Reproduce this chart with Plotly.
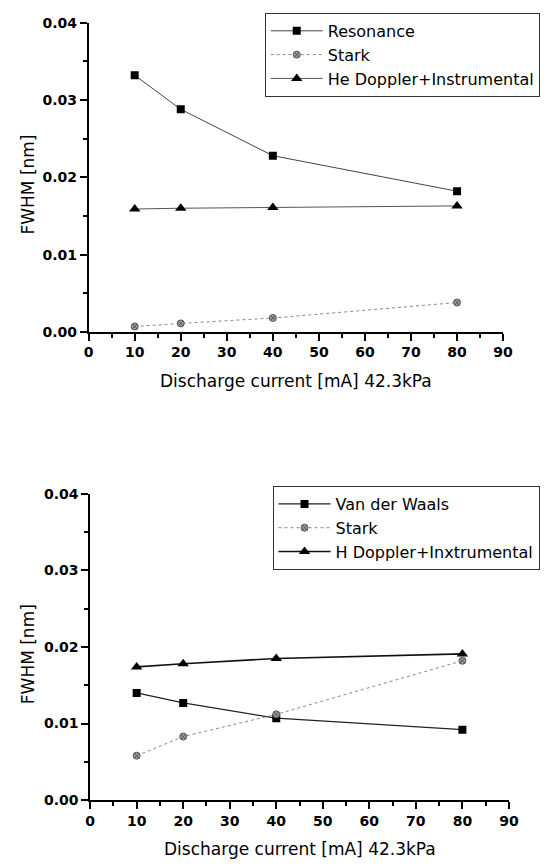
import plotly.graph_objects as go

# Discharge current [mA]
current = [10, 20, 40, 80]

# Upper panel: He line broadening components (FWHM, nm)
resonance = [0.0332, 0.0288, 0.0228, 0.0182]
stark_he = [0.0007, 0.0011, 0.0018, 0.0038]
he_doppler = [0.0159, 0.0160, 0.0161, 0.0163]

# Lower panel: H line broadening components (FWHM, nm)
van_der_waals = [0.0140, 0.0127, 0.0107, 0.0092]
stark_h = [0.0058, 0.0083, 0.0112, 0.0182]
h_doppler = [0.0174, 0.0178, 0.0185, 0.0191]

x_ticks = [0, 10, 20, 30, 40, 50, 60, 70, 80, 90]
y_ticks = [0.00, 0.01, 0.02, 0.03, 0.04]

W, H = 552, 867
FONT = "DejaVu Sans"


def px_x(p):
    return p / W


def px_y(p):
    return 1 - p / H


fig = go.Figure()

# ---- upper panel ----
fig.add_trace(go.Scatter(
    x=current, y=resonance, name="Resonance", mode="lines+markers",
    line=dict(color="#444", width=1),
    marker=dict(symbol="square", size=8, color="black"),
    xaxis="x", yaxis="y", legend="legend"))
fig.add_trace(go.Scatter(
    x=current, y=stark_he, name="Stark", mode="lines+markers",
    line=dict(color="#888", width=1, dash="dot"),
    marker=dict(symbol="circle-x", size=7, color="#999",
                line=dict(color="#555", width=1)),
    xaxis="x", yaxis="y", legend="legend"))
fig.add_trace(go.Scatter(
    x=current, y=he_doppler, name="He Doppler+Instrumental", mode="lines+markers",
    line=dict(color="#555", width=1),
    marker=dict(symbol="triangle-up", size=10, color="black"),
    xaxis="x", yaxis="y", legend="legend"))

# ---- lower panel ----
fig.add_trace(go.Scatter(
    x=current, y=van_der_waals, name="Van der Waals", mode="lines+markers",
    line=dict(color="#222", width=1.2),
    marker=dict(symbol="square", size=8, color="black"),
    xaxis="x2", yaxis="y2", legend="legend2"))
fig.add_trace(go.Scatter(
    x=current, y=stark_h, name="Stark", mode="lines+markers",
    line=dict(color="#888", width=1, dash="dot"),
    marker=dict(symbol="circle-x", size=7, color="#999",
                line=dict(color="#555", width=1)),
    xaxis="x2", yaxis="y2", legend="legend2"))
fig.add_trace(go.Scatter(
    x=current, y=h_doppler, name="H Doppler+Inxtrumental", mode="lines+markers",
    line=dict(color="#111", width=1.6),
    marker=dict(symbol="triangle-up", size=10, color="black"),
    xaxis="x2", yaxis="y2", legend="legend2"))

tick_font = dict(family=FONT, size=14, color="black", weight="bold")


def xaxis(domain, anchor):
    return dict(
        domain=domain, anchor=anchor, range=[0, 90],
        tickvals=x_ticks, ticktext=[str(v) for v in x_ticks],
        ticks="outside", ticklen=7, tickwidth=1.5, tickcolor="black",
        minor=dict(dtick=5, tick0=0, ticks="outside", ticklen=4,
                   tickwidth=1.5, tickcolor="black"),
        showline=True, linecolor="black", linewidth=1.5,
        showgrid=False, zeroline=False, tickfont=tick_font,
        fixedrange=True)


def yaxis(domain, anchor):
    return dict(
        domain=domain, anchor=anchor, range=[0, 0.04],
        tickvals=y_ticks, ticktext=[f"{v:.2f}" for v in y_ticks],
        ticks="outside", ticklen=7, tickwidth=1.5, tickcolor="black",
        minor=dict(dtick=0.005, tick0=0, ticks="outside", ticklen=4,
                   tickwidth=1.5, tickcolor="black"),
        showline=True, linecolor="black", linewidth=1.5,
        showgrid=False, zeroline=False, tickfont=tick_font,
        fixedrange=True)


legend_style = dict(
    font=dict(family=FONT, size=16, color="black"),
    bordercolor="#333", borderwidth=1, bgcolor="white",
    xanchor="left", yanchor="top", itemwidth=52,
    tracegroupgap=0, itemclick=False)

# plot-area edges in pixels
top_x = (86, 512)
top_y = (15, 330)
bot_x = (87.5, 518)
bot_y = (495, 807)

fig.update_layout(
    width=W, height=H,
    margin=dict(l=0, r=0, t=0, b=0),
    paper_bgcolor="white", plot_bgcolor="white",
    font=dict(family=FONT, color="black"),
    xaxis=xaxis([px_x(top_x[0]), px_x(top_x[1])], "y"),
    yaxis=yaxis([px_y(top_y[1]), px_y(top_y[0])], "x"),
    xaxis2=xaxis([px_x(bot_x[0]), px_x(bot_x[1])], "y2"),
    yaxis2=yaxis([px_y(bot_y[1]), px_y(bot_y[0])], "x2"),
    legend=dict(x=px_x(267), y=px_y(5), **legend_style),
    legend2=dict(x=px_x(275), y=px_y(487), **legend_style),
)

title_font = dict(family=FONT, size=17, color="black")
for (xr, yr) in [(top_x, top_y), (bot_x, bot_y)]:
    fig.add_annotation(
        text="Discharge current [mA] 42.3kPa", showarrow=False,
        xref="paper", yref="paper",
        x=px_x((xr[0] + xr[1]) / 2), y=px_y(yr[1] + 50),
        xanchor="center", yanchor="middle", font=title_font)
    fig.add_annotation(
        text="FWHM [nm]", showarrow=False, textangle=-90,
        xref="paper", yref="paper",
        x=px_x(24), y=px_y((yr[0] + yr[1]) / 2 + 7),
        xanchor="center", yanchor="middle", font=title_font)

fig.write_html("out.html")
